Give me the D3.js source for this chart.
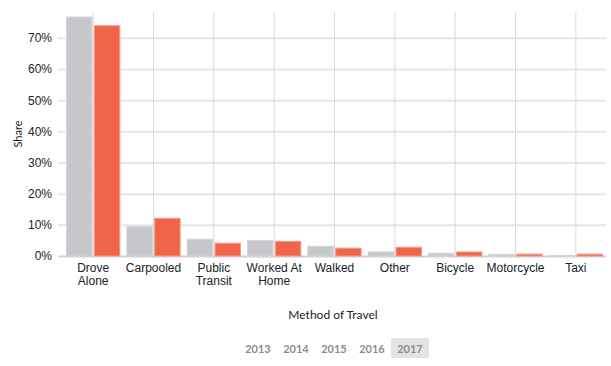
<!DOCTYPE html>
<html>
<head>
<meta charset="utf-8">
<script src="https://cdn.jsdelivr.net/npm/d3@7"></script>
<style>
  body { margin: 0; background: #fff; }
  svg { display: block; }
  .tick text { font-family: "Liberation Sans", Arial, sans-serif; font-size: 12px; fill: #222; }
  .title { font-family: Lato, "Open Sans", sans-serif; font-size: 12px; fill: #222; }
  .year { font-family: Lato, "Open Sans", sans-serif; font-size: 11px; font-weight: bold; fill: #8c8c8c; }
</style>
</head>
<body>
<div id="chart"></div>
<script>
const categories = ["Drove Alone", "Carpooled", "Public Transit", "Worked At Home", "Walked",
    "Other", "Bicycle", "Motorcycle", "Taxi"]
// gray bars (comparison year) and orange bars (selected year), as shares
const sharePrior = [0.767, 0.094, 0.054, 0.050, 0.031, 0.013, 0.009, 0.005, 0.002]
const share2017  = [0.739, 0.121, 0.041, 0.047, 0.025, 0.028, 0.013, 0.006, 0.006]
const yTicks = [0, 0.1, 0.2, 0.3, 0.4, 0.5, 0.6, 0.7]
const years = ["2013", "2014", "2015", "2016", "2017"]
const selectedYear = "2017"

const width = 611, height = 366
const margin = {top: 12, right: 5, bottom: 110, left: 58}
const plotW = width - margin.left - margin.right
const plotH = height - margin.top - margin.bottom

const svg = d3.select('#chart').append('svg')
    .attr('width', width)
    .attr('height', height)

const g = svg.append('g')
    .attr('transform', `translate(${margin.left},${margin.top})`)

const x0 = d3.scaleBand()
    .domain(categories)
    .range([5, plotW])
    .paddingInner(0.1)
    .paddingOuter(0.05)

const x1 = d3.scaleBand()
    .domain([0, 1])
    .range([0, x0.bandwidth()])
    .paddingInner(0.05)

const y = d3.scaleLinear()
    .domain([0, 0.783])
    .range([plotH, 0])

// horizontal grid + y labels
const yAxis = d3.axisLeft(y)
    .tickValues(yTicks)
    .tickFormat(d3.format('.0%'))
    .tickSize(-plotW)
    .tickPadding(6)

g.append('g')
    .call(yAxis)
    .call(a => a.select('.domain').remove())
    .call(a => a.selectAll('.tick line')
        .attr('stroke', (d) => d === 0 ? '#d2d2d2' : '#e6e6e6')
        .attr('stroke-width', 2))

// vertical grid at category centers
g.append('g')
    .selectAll('line')
    .data(categories)
    .enter()
    .append('line')
    .attr('x1', d => x0(d) + x0.bandwidth() / 2)
    .attr('x2', d => x0(d) + x0.bandwidth() / 2)
    .attr('y1', 0)
    .attr('y2', plotH)
    .attr('stroke', '#d9d9d9')
    .attr('stroke-width', 1)

// bars
const rows = categories.map((c, i) => ({cat: c, vals: [sharePrior[i], share2017[i]]}))
const fills = ['#c6c7ca', '#f0644a']
const strokes = ['#d3d4d6', '#f59a86']

g.append('g')
    .selectAll('g')
    .data(rows)
    .enter()
    .append('g')
    .attr('transform', d => `translate(${x0(d.cat)},0)`)
    .selectAll('rect')
    .data(d => d.vals)
    .enter()
    .append('rect')
    .attr('x', (d, i) => x1(i) + 0.5)
    .attr('y', d => y(d))
    .attr('width', x1.bandwidth() - 1)
    .attr('height', d => plotH - y(d))
    .attr('fill', (d, i) => fills[i])
    .attr('stroke', (d, i) => strokes[i])
    .attr('stroke-width', 1)

// x axis labels
const xAxis = d3.axisBottom(x0).tickSize(0).tickPadding(7)

g.append('g')
    .attr('transform', `translate(0,${plotH})`)
    .call(xAxis)
    .call(a => a.select('.domain').remove())
    .selectAll('.tick text')
    .call(wrap, x0.step() - 2)

function wrap(texts, w) {
    texts.each(function() {
        const text = d3.select(this)
        const words = text.text().split(/\s+/)
        const yy = text.attr('y'), dy = parseFloat(text.attr('dy'))
        let line = [], lineNo = 0
        let tspan = text.text(null).append('tspan').attr('x', 0).attr('y', yy).attr('dy', dy + 'em')
        words.forEach(word => {
            line.push(word)
            tspan.text(line.join(' '))
            if (tspan.node().getComputedTextLength() > w && line.length > 1) {
                line.pop()
                tspan.text(line.join(' '))
                line = [word]
                tspan = text.append('tspan').attr('x', 0).attr('y', yy)
                    .attr('dy', (++lineNo * 1.1 + dy) + 'em').text(word)
            }
        })
    })
}

// axis titles
svg.append('text')
    .attr('class', 'title')
    .attr('text-anchor', 'middle')
    .attr('transform', `translate(22,${margin.top + plotH / 2}) rotate(-90)`)
    .style('font-size', '11px')
    .text('Share')

svg.append('text')
    .attr('class', 'title')
    .attr('text-anchor', 'middle')
    .attr('x', margin.left + plotW / 2 + 1)
    .attr('y', 319)
    .text('Method of Travel')

// year selector
const btnW = 38, btnH = 20
const yearX = d3.scaleBand()
    .domain(years)
    .range([334 - btnW * years.length / 2, 334 + btnW * years.length / 2])

const btn = svg.append('g')
    .selectAll('g')
    .data(years)
    .enter()
    .append('g')
    .attr('transform', d => `translate(${yearX(d)},338)`)

btn.append('rect')
    .attr('width', yearX.bandwidth())
    .attr('height', btnH)
    .attr('fill', d => d === selectedYear ? '#e3e3e3' : 'none')

btn.append('text')
    .attr('class', 'year')
    .attr('x', yearX.bandwidth() / 2)
    .attr('y', 14.5)
    .attr('text-anchor', 'middle')
    .text(d => d)
</script>
</body>
</html>
